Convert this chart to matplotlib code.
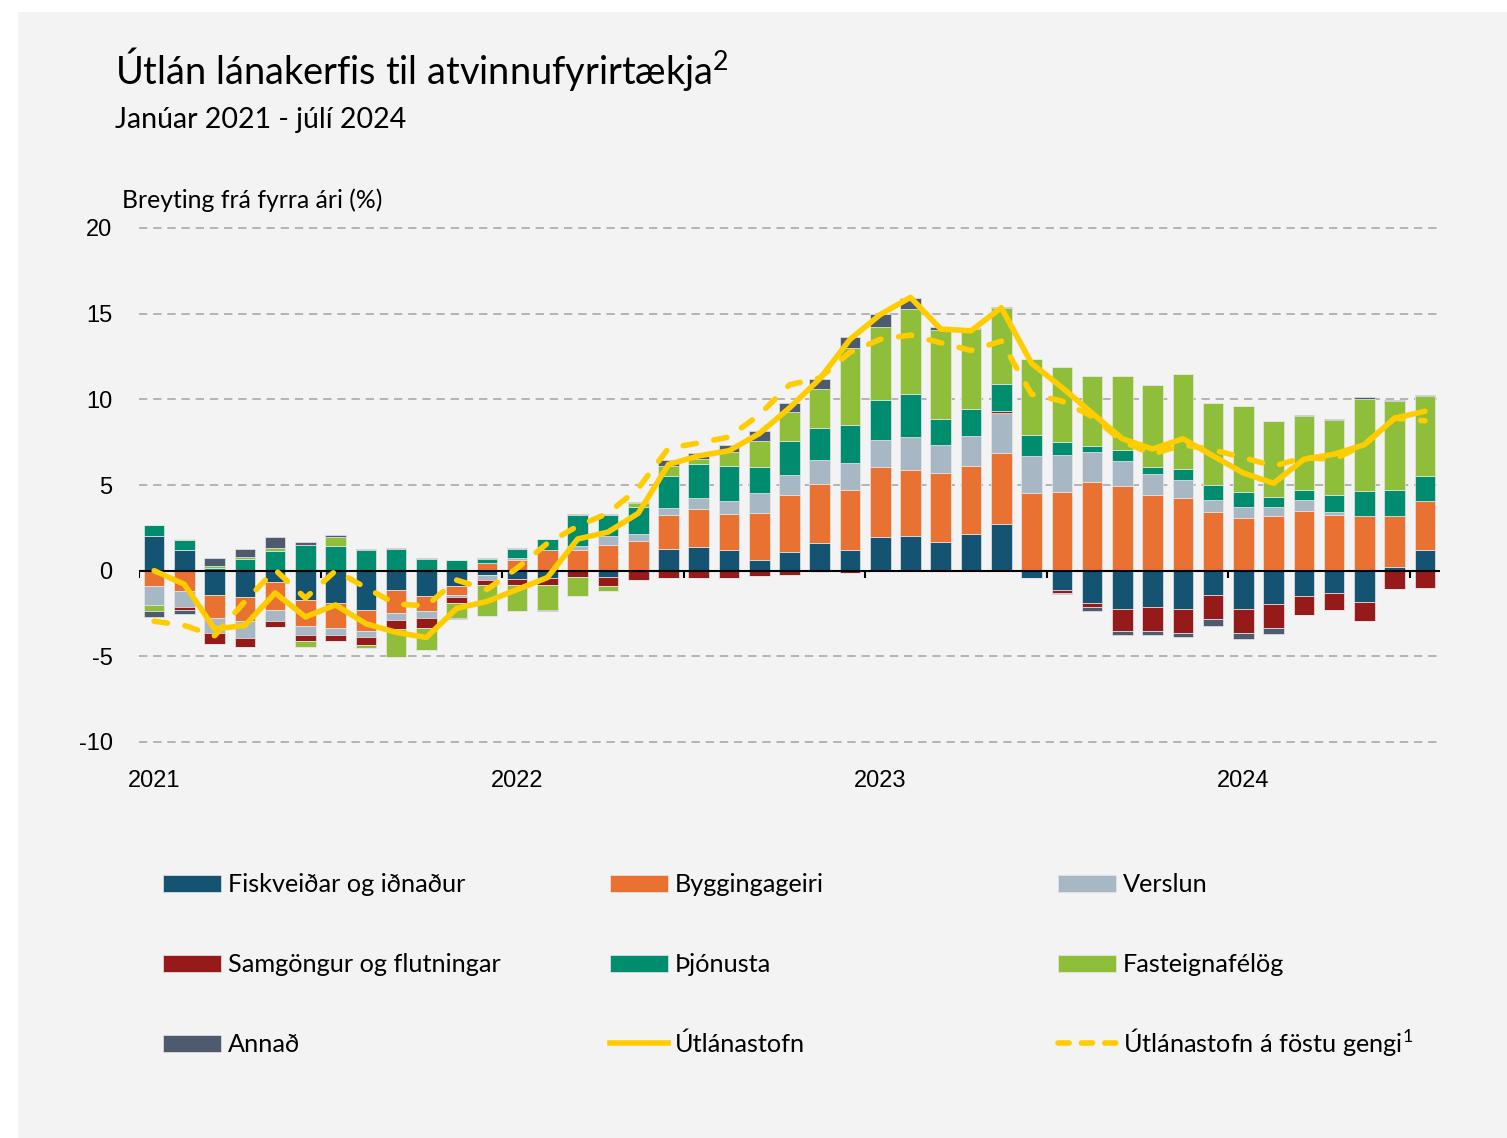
import numpy as np
import matplotlib.pyplot as plt
from matplotlib.patches import Rectangle, Patch
from matplotlib.lines import Line2D

plt.rcParams['font.family'] = ['Lato', 'DejaVu Sans']
plt.rcParams['mathtext.fontset'] = 'custom'
plt.rcParams['mathtext.rm'] = 'Lato'

# Mánuðir jan 2021 - júl 2024 (43 mánuðir)
year_labels = ['2021', '2022', '2023', '2024']

fiskveidar = [2.0, 1.23, -1.44, -1.54, -0.68, -1.69, -1.89, -2.28, -1.15, -1.5, -0.88, -0.28, -0.49, -0.43,
              0.0, -0.37, 0.0, 1.28, 1.36, 1.23, 0.64, 1.09, 1.61, 1.23, 1.95, 2.0, 1.67, 2.14, 2.72,
              -0.4, -1.11, -1.89, -2.22, -2.14, -2.22, -1.44, -2.22, -1.95, -1.5, -1.3, -1.83, 0.23, 1.23]
bygging = [-0.88, -1.2, -1.32, -1.38, -1.6, -1.52, -1.46, -1.23, -1.32, -0.84, -0.56, 0.45, 0.64, 1.23,
           1.23, 1.48, 1.75, 1.98, 2.24, 2.1, 2.7, 3.3, 3.44, 3.5, 4.09, 3.89, 4.03, 3.95, 4.16,
           4.53, 4.58, 5.18, 4.92, 4.44, 4.24, 3.4, 3.07, 3.21, 3.46, 3.27, 3.17, 2.98, 2.82]
verslun = [-1.15, -0.91, -0.88, -0.99, -0.64, -0.53, -0.39, -0.37, -0.39, -0.43, -0.08, -0.27, 0.1, 0.0,
           0.19, 0.53, 0.39, 0.37, 0.64, 0.74, 1.2, 1.2, 1.42, 1.57, 1.58, 1.91, 1.65, 1.79, 2.32,
           2.16, 2.17, 1.77, 1.5, 1.21, 1.07, 0.7, 0.64, 0.51, 0.64, 0.16, 0.0, 0.0, 0.0]
samgongur = [0.0, -0.16, -0.62, -0.54, -0.35, -0.39, -0.39, -0.47, -0.53, -0.58, -0.37, -0.27, -0.33, -0.39,
             -0.37, -0.51, -0.53, -0.43, -0.43, -0.43, -0.29, -0.23, -0.05, -0.13, 0.0, 0.0, 0.0, 0.0, 0.1,
             0.0, -0.19, -0.25, -1.32, -1.36, -1.42, -1.38, -1.42, -1.4, -1.11, -0.97, -1.09, -1.07, -1.01]
thjonusta = [0.66, 0.54, 0.15, 0.68, 1.13, 1.48, 1.42, 1.23, 1.28, 0.68, 0.6, 0.25, 0.53, 0.62,
             1.85, 1.23, 1.6, 1.87, 1.98, 2.02, 1.52, 1.97, 1.88, 2.2, 2.33, 2.51, 1.52, 1.58, 1.61,
             1.25, 0.74, 0.35, 0.6, 0.41, 0.64, 0.91, 0.86, 0.56, 0.62, 0.97, 1.46, 1.52, 1.46]
fasteign = [-0.31, 0.05, 0.15, 0.12, 0.19, -0.31, 0.53, -0.18, -1.65, -1.3, -0.9, -1.83, -1.52, -1.46,
            -1.13, -0.33, 0.19, 0.58, 0.3, 0.82, 1.52, 1.7, 2.25, 4.48, 4.28, 4.96, 5.19, 4.65, 4.42,
            4.42, 4.4, 4.09, 4.36, 4.75, 5.54, 4.77, 5.02, 4.47, 4.28, 4.38, 5.41, 5.16, 4.67]
annad = [-0.39, -0.25, 0.45, 0.47, 0.62, 0.19, 0.14, 0.06, 0.06, 0.06, -0.06, 0.06, 0.04, -0.05,
         0.06, 0.08, 0.08, 0.39, 0.35, 0.41, 0.56, 0.53, 0.58, 0.66, 0.76, 0.64, 0.14, 0.05, 0.05,
         0.0, -0.06, -0.19, -0.19, -0.23, -0.23, -0.39, -0.35, -0.33, 0.08, 0.08, 0.08, 0.06, 0.1]

utlanastofn = [0.0, -0.8, -3.4, -3.2, -1.3, -2.7, -2.0, -3.1, -3.6, -3.9, -2.2, -1.8, -1.1, -0.4,
               1.85, 2.25, 3.35, 6.2, 6.7, 7.0, 8.0, 9.5, 11.2, 13.5, 14.95, 15.95, 14.1, 14.0, 15.35,
               12.1, 10.7, 9.2, 7.7, 7.1, 7.7, 6.7, 5.7, 5.1, 6.5, 6.8, 7.35, 8.9, 9.3]
fast_gengi = [-2.95, -3.2, -3.8, -1.8, 0.05, -1.6, 0.0, -1.0, -1.95, -2.05, -0.55, -1.1, 0.15, 1.6,
              2.6, 3.35, 4.8, 7.15, 7.45, 7.8, 9.1, 10.85, 11.25, 12.75, 13.5, 13.75, 13.3, 12.85, 13.4,
              10.3, 9.9, 9.0, 7.55, 6.8, 7.35, 7.05, 6.6, 6.1, 6.6, 6.5, 7.35, 8.9, 8.75]

series = [
    ('Fiskveiðar og iðnaður', fiskveidar, '#145372'),
    ('Byggingageiri', bygging, '#E97132'),
    ('Verslun', verslun, '#A7B8C4'),
    ('Samgöngur og flutningar', samgongur, '#961A1A'),
    ('Þjónusta', thjonusta, '#008C6E'),
    ('Fasteignafélög', fasteign, '#8FBF3A'),
    ('Annað', annad, '#4E5A6D'),
]
yellow = '#FFCC00'

W, H = 1507, 1138
fig = plt.figure(figsize=(W / 100, H / 100), dpi=100)
fig.patch.set_facecolor('white')
fig.add_artist(Rectangle((18 / W, 0), 1, 1 - 12 / H, transform=fig.transFigure,
                         facecolor='#f3f3f3', edgecolor='none', zorder=-10))

ax = fig.add_axes([139 / W, 1 - 742 / H, 1301 / W, 514 / H])
ax.set_facecolor('none')

x = np.arange(len(fiskveidar))
pos_bottom = np.zeros(len(x))
neg_bottom = np.zeros(len(x))
for name, vals, col in series:
    v = np.array(vals)
    p = np.where(v > 0, v, 0)
    n = np.where(v < 0, v, 0)
    ax.bar(x, p, 0.68, bottom=pos_bottom, color=col, edgecolor='#e6e6e6', linewidth=0.5, zorder=2)
    ax.bar(x, n, 0.68, bottom=neg_bottom, color=col, edgecolor='#e6e6e6', linewidth=0.5, zorder=2)
    pos_bottom += p
    neg_bottom += n

ax.plot(x, utlanastofn, color=yellow, lw=4, solid_joinstyle='round', solid_capstyle='round', zorder=4)
ax.plot(x, fast_gengi, color=yellow, lw=4, linestyle=(0, (2.4, 3.2)),
        dash_capstyle='round', dash_joinstyle='round', zorder=5)

# gridlínur
for yv in [-10, -5, 5, 10, 15, 20]:
    ax.axhline(yv, color='#a9a9a9', lw=1.2, dashes=(5, 3.5), clip_on=False, zorder=0)
ax.axhline(0, color='black', lw=1.5, zorder=3)
ax.vlines(np.arange(-0.5, len(x), 6), -0.45, 0, color='black', lw=1.5, zorder=3)

ax.set_xlim(-0.5, len(x) - 0.5)
ax.set_ylim(-10, 20)
for s in ax.spines.values():
    s.set_visible(False)

ax.set_xticks([0, 12, 24, 36], year_labels)
ax.set_yticks(range(-10, 21, 5), [str(v) for v in range(-10, 21, 5)])
ax.tick_params(axis='both', length=0, labelsize=17)
ax.tick_params(axis='x', pad=20)
ax.tick_params(axis='y', pad=19)
for lab in ax.get_xticklabels() + ax.get_yticklabels():
    lab.set_fontfamily('Liberation Sans')

fig.text(115 / W, 1 - 84 / H, r'Útlán lánakerfis til atvinnufyrirtækja$\mathregular{^2}$', fontsize=27.4, va='baseline')
fig.text(115 / W, 1 - 128 / H, 'Janúar 2021 - júlí 2024', fontsize=20.5, va='baseline')
fig.text(122 / W, 1 - 208 / H, 'Breyting frá fyrra ári (%)', fontsize=17.8, va='baseline')

# skýringar: ein færsla í einu, 3 dálkar x 3 raðir
patch = {name: Patch(facecolor=col, edgecolor='#e6e6e6', linewidth=0.5) for name, _, col in series}
solid_h = Line2D([], [], color=yellow, lw=4)
dash_h = Line2D([], [], color=yellow, lw=4, linestyle=(0, (2.0, 2.2)), dash_capstyle='round')
entries = [
    (163, 885, patch['Fiskveiðar og iðnaður'], 'Fiskveiðar og iðnaður'),
    (610, 885, patch['Byggingageiri'], 'Byggingageiri'),
    (1058, 885, patch['Verslun'], 'Verslun'),
    (163, 965, patch['Samgöngur og flutningar'], 'Samgöngur og flutningar'),
    (610, 965, patch['Þjónusta'], 'Þjónusta'),
    (1058, 965, patch['Fasteignafélög'], 'Fasteignafélög'),
    (163, 1045, patch['Annað'], 'Annað'),
    (610, 1044, solid_h, 'Útlánastofn'),
    (1058, 1042, dash_h, r'Útlánastofn á föstu gengi$\mathregular{^1}$'),
]
for cx, cy, h, lab in entries:
    fig.legend([h], [lab], loc='center left', bbox_to_anchor=(cx / W, 1 - cy / H),
               bbox_transform=fig.transFigure, frameon=False, fontsize=18.2,
               handlelength=2.3, handleheight=0.62, handletextpad=0.28,
               borderaxespad=0, borderpad=0)

fig.savefig('out.png', dpi=100, facecolor=fig.get_facecolor())
